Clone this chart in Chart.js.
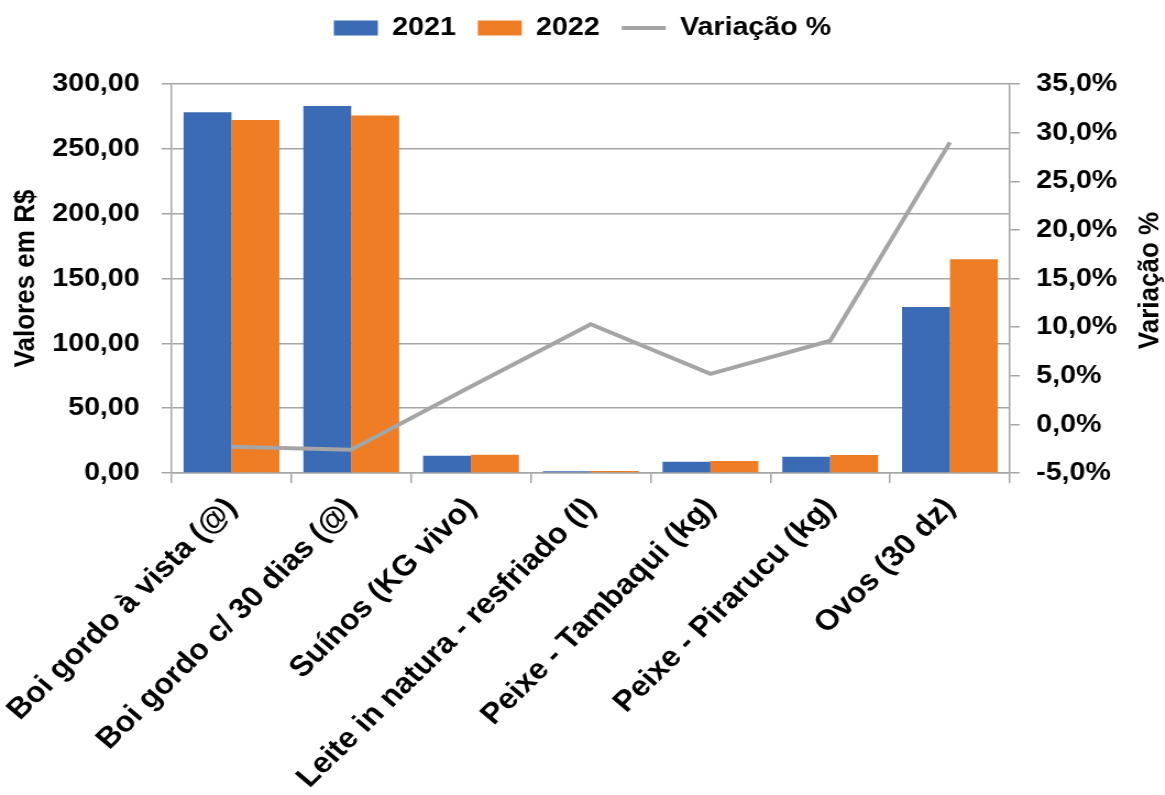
<!DOCTYPE html>
<html>
<head>
<meta charset="utf-8">
<script src="https://cdn.jsdelivr.net/npm/chart.js@4.4.0/dist/chart.umd.min.js"></script>
<style>
  html, body { margin: 0; padding: 0; background: #fff; overflow: hidden; }
  /* the original picture is a little wider than tall in its lettering, so stretch */
  #wrap { width: 1059px; height: 795px; transform: scaleX(1.1); transform-origin: 0 0; }
</style>
</head>
<body>
<div id="wrap"><canvas id="myChart" width="1059" height="795"></canvas></div>
<script>
const categories = [
  'Boi gordo à vista (@)',
  'Boi gordo c/ 30 dias (@)',
  'Suínos (KG vivo)',
  'Leite in natura - resfriado (l)',
  'Peixe - Tambaqui (kg)',
  'Peixe - Pirarucu (kg)',
  'Ovos (30 dz)'
];
const values2021 = [278.3, 283.0, 13.3, 1.3, 8.7, 12.6, 128.0];
const values2022 = [272.2, 275.8, 14.1, 1.5, 9.2, 13.9, 164.9];
const variacao = [-2.3, -2.6, 3.9, 10.3, 5.2, 8.6, 29.0];

const ctx = document.getElementById('myChart');
const FONT = "'Liberation Sans', Arial, sans-serif";
const GRID = '#a6a6a6';
const FS = 26;

Chart.defaults.font.family = FONT;
Chart.defaults.font.weight = 'bold';
Chart.defaults.font.size = FS;
Chart.defaults.color = '#000';

// legend takes the whole strip above the plot
const legendGap = {
  id: 'legendGap',
  beforeInit(chart) {
    const fit = chart.legend.fit;
    chart.legend.fit = function () {
      fit.bind(chart.legend)();
      this.height = 89;
    };
  }
};

// right axis title reads bottom to top
const rightTitle = {
  id: 'rightTitle',
  afterDraw(chart) {
    const a = chart.chartArea;
    const c = chart.ctx;
    c.save();
    c.translate(1046, (a.top + a.bottom) / 2 + 2);
    c.rotate(-Math.PI / 2);
    c.font = 'bold ' + FS + 'px ' + FONT;
    c.fillStyle = '#000';
    c.textAlign = 'center';
    c.textBaseline = 'middle';
    c.fillText('Variação %', 0, 0);
    c.restore();
  }
};

let config = {
  type: 'bar',
  data: {
    labels: categories,
    datasets: [
      {
        type: 'line',
        label: 'Variação %',
        data: variacao,
        yAxisID: 'y1',
        borderColor: '#a5a5a5',
        backgroundColor: '#a5a5a5',
        borderWidth: 4,
        pointRadius: 0,
        pointStyle: 'line',
        tension: 0,
        order: 0
      },
      {
        label: '2021',
        data: values2021,
        yAxisID: 'y',
        backgroundColor: '#3b6bb4',
        pointStyle: 'rect',
        categoryPercentage: 0.8,
        barPercentage: 1.0,
        order: 1
      },
      {
        label: '2022',
        data: values2022,
        yAxisID: 'y',
        backgroundColor: '#ee7d26',
        pointStyle: 'rect',
        categoryPercentage: 0.8,
        barPercentage: 1.0,
        order: 1
      }
    ]
  },
  options: {
    responsive: false,
    animation: false,
    layout: { padding: { top: -5, left: 0, right: 0, bottom: 0 } },
    plugins: {
      legend: {
        position: 'top',
        labels: {
          usePointStyle: true,
          pointStyleWidth: 40,
          boxHeight: 15,
          padding: 20,
          font: { size: FS, weight: 'bold' },
          sort: (a, b) => {
            const order = ['2021', '2022', 'Variação %'];
            return order.indexOf(a.text) - order.indexOf(b.text);
          }
        }
      },
      tooltip: { enabled: false }
    },
    scales: {
      x: {
        grid: {
          offset: true,
          drawOnChartArea: false,
          color: GRID,
          lineWidth: 1.5,
          tickLength: 10
        },
        border: { color: GRID, width: 1.5 },
        ticks: {
          maxRotation: 47,
          minRotation: 47,
          autoSkip: false,
          padding: 8,
          labelOffset: 0,
          font: { size: 29, weight: 'bold' }
        },
        afterFit: (s) => {
          s.height = 322;
          s.paddingLeft = 0;
          s.paddingRight = 0;
        }
      },
      y: {
        position: 'left',
        min: 0,
        max: 300,
        ticks: {
          stepSize: 50,
          padding: 20,
          font: { size: FS, weight: 'bold' },
          callback: (v) => v.toFixed(2).replace('.', ',')
        },
        grid: { color: GRID, lineWidth: 1.5, tickLength: 9 },
        border: { color: GRID, width: 1.5 },
        title: {
          display: true,
          text: 'Valores em R$',
          font: { size: FS, weight: 'bold' },
          padding: { top: 8, bottom: 4 }
        },
        afterFit: (s) => { s.width = 156; }
      },
      y1: {
        position: 'right',
        min: -5,
        max: 35,
        ticks: {
          stepSize: 5,
          padding: 15,
          font: { size: FS, weight: 'bold' },
          callback: (v) => v.toFixed(1).replace('.', ',') + '%'
        },
        grid: { drawOnChartArea: false, color: GRID, lineWidth: 1.5, tickLength: 9 },
        border: { color: GRID, width: 1.5 },
        afterFit: (s) => { s.width = 141; }
      }
    }
  },
  plugins: [legendGap, rightTitle]
};

let newChart = new Chart(ctx, config);
</script>
</body>
</html>
